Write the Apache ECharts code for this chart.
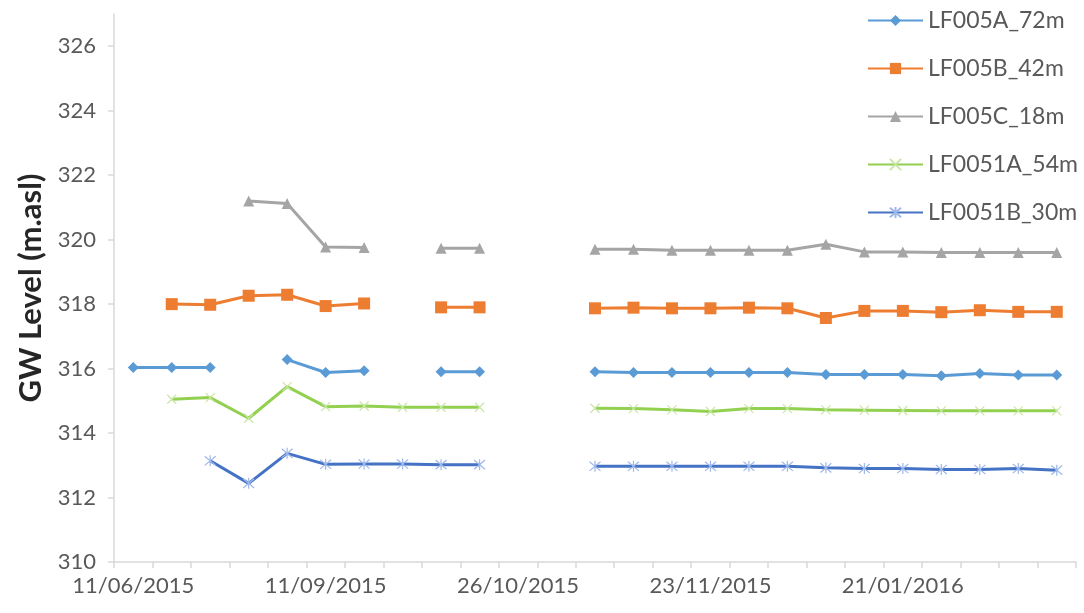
<!DOCTYPE html>
<html>
<head>
<meta charset="utf-8">
<script src="https://cdn.jsdelivr.net/npm/echarts@6/dist/echarts.min.js"></script>
<style>
  html, body { margin: 0; padding: 0; background: #fff; }
  #chart { width: 1084px; height: 613px; }
</style>
</head>
<body>
<div id="chart"></div>
<script>
// sampling rounds (only every 5th date is labelled in the source)
var categories = ['11/06/2015', '', '', '', '', '11/09/2015', '', '', '', '', '26/10/2015', '', '', '', '',
                  '23/11/2015', '', '', '', '', '21/01/2016', '', '', '', ''];
var yTicks = [310, 312, 314, 316, 318, 320, 322, 324, 326];

var lf005A = [316.03, 316.03, 316.03, null, 316.28, 315.88, 315.93, null, 315.90, 315.90, null, null,
              315.90, 315.88, 315.88, 315.88, 315.88, 315.88, 315.82, 315.82, 315.82, 315.78, 315.85, 315.80, 315.80];
var lf005B = [null, 318.00, 317.98, 318.26, 318.29, 317.94, 318.02, null, 317.90, 317.90, null, null,
              317.87, 317.89, 317.87, 317.87, 317.89, 317.87, 317.57, 317.79, 317.79, 317.75, 317.81, 317.76, 317.76];
var lf005C = [null, null, null, 321.20, 321.12, 319.77, 319.76, null, 319.73, 319.73, null, null,
              319.70, 319.70, 319.67, 319.67, 319.67, 319.67, 319.86, 319.62, 319.62, 319.60, 319.60, 319.60, 319.60];
var lf0051A = [null, 315.05, 315.10, 314.46, 315.44, 314.82, 314.84, 314.80, 314.80, 314.80, null, null,
               314.77, 314.76, 314.72, 314.67, 314.76, 314.76, 314.72, 314.71, 314.70, 314.69, 314.69, 314.69, 314.69];
var lf0051B = [null, null, 313.14, 312.44, 313.37, 313.03, 313.04, 313.04, 313.02, 313.02, null, null,
               312.97, 312.97, 312.97, 312.97, 312.97, 312.97, 312.92, 312.90, 312.90, 312.87, 312.87, 312.90, 312.85];

var font = 'Lato, "Liberation Sans", sans-serif';
var axisGrey = '#d9d9d9';
var textGrey = '#595959';

var xMark = 'path://M0,0L10,10M10,0L0,10';
var starMark = 'path://M0,0L10,10M10,0L0,10M5,-1L5,11';

function lineSeries(name, values, color, symbol, size, markStyle) {
  return {
    name: name,
    type: 'line',
    data: values,
    symbol: symbol,
    symbolSize: size,
    showAllSymbol: true,
    connectNulls: false,
    lineStyle: { color: color, width: 3 },
    itemStyle: markStyle || { color: color },
    emphasis: { disabled: true },
    z: 3
  };
}

var chart = echarts.init(document.getElementById('chart'), null, { renderer: 'canvas' });
chart.setOption({
  backgroundColor: '#fff',
  animation: false,
  textStyle: { fontFamily: font },
  grid: { left: 114, right: 8, top: 14, bottom: 51, containLabel: false },
  legend: {
    orient: 'vertical',
    left: 867,
    top: 9,
    padding: 0,
    itemWidth: 55,
    itemHeight: 14,
    itemGap: 25,
    textStyle: { fontFamily: font, fontSize: 23, color: textGrey, lineHeight: 23 },
    data: ['LF005A_72m', 'LF005B_42m', 'LF005C_18m', 'LF0051A_54m', 'LF0051B_30m']
  },
  xAxis: {
    type: 'category',
    data: categories,
    boundaryGap: true,
    axisLine: { lineStyle: { color: axisGrey, width: 1.5 } },
    axisTick: { show: true, interval: 0, length: 6, lineStyle: { color: axisGrey, width: 1.5 } },
    axisLabel: { interval: 4, color: textGrey, fontSize: 22, margin: 13, fontFamily: font },
    splitLine: { show: false }
  },
  yAxis: {
    type: 'value',
    min: 310,
    max: 327,
    interval: 2,
    name: 'GW Level (m.asl)',
    nameLocation: 'middle',
    nameGap: 66,
    nameTextStyle: { fontFamily: font, fontSize: 31, fontWeight: 'bold', color: '#262626' },
    axisLine: { show: true, lineStyle: { color: axisGrey, width: 1.5 } },
    axisTick: { show: true, length: 6, customValues: yTicks, lineStyle: { color: axisGrey, width: 1.5 } },
    axisLabel: { color: textGrey, fontSize: 22, margin: 18, fontFamily: font, customValues: yTicks },
    splitLine: { show: false }
  },
  series: [
    lineSeries('LF005A_72m', lf005A, '#5B9BD5', 'diamond', 11),
    lineSeries('LF005B_42m', lf005B, '#ED7D31', 'rect', 12),
    lineSeries('LF005C_18m', lf005C, '#A5A5A5', 'triangle', 11),
    lineSeries('LF0051A_54m', lf0051A, '#92D050', xMark, 9,
      { color: '#92D050', borderColor: '#c9e6a6', borderWidth: 1.2 }),
    lineSeries('LF0051B_30m', lf0051B, '#4472C4', starMark, 11,
      { color: '#4472C4', borderColor: '#9fb8ea', borderWidth: 1.2 })
  ]
});
</script>
</body>
</html>
